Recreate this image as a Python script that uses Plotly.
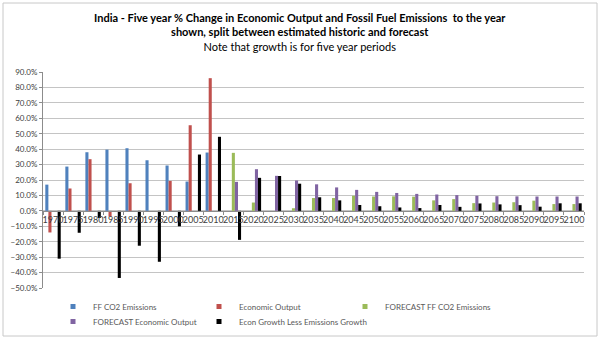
import plotly.graph_objects as go

# Five-year periods ending in the year shown
years = [str(y) for y in range(1970, 2101, 5)]

# Historic series (1970-2010), percent change over the five years
ff_co2 = [17.0, 28.7, 38.0, 39.7, 40.6, 32.8, 29.4, 19.0, 37.8]
econ_output = [-14.0, 14.5, 33.5, -3.7, 17.9, 0.0, 19.4, 55.5, 86.0]

# Forecast series (2015-2100)
fc_ff_co2 = [37.6, 5.4, 0.0, 1.7, 8.3, 8.3, 9.8, 9.3, 9.4, 9.2, 6.8, 7.6,
             5.0, 5.4, 5.6, 6.6, 4.4, 4.4]
fc_econ_output = [18.8, 27.0, 22.7, 19.7, 17.2, 15.2, 13.6, 12.3, 11.6, 11.0,
                  10.6, 10.2, 9.8, 9.5, 9.4, 9.3, 9.3, 9.3]

# Economic growth minus emissions growth, whole span
growth_gap = [-31.0, -14.2, -4.6, -43.5, -22.6, -33.0, -10.0, 36.5, 48.0,
              -18.8, 21.4, 22.6, 17.6, 8.8, 6.8, 3.8, 3.0, 2.2, 1.8, 3.8,
              2.6, 4.8, 4.2, 3.7, 2.7, 4.9, 4.9]

n_hist = len(ff_co2)
hist_years = years[:n_hist]
fc_years = years[n_hist:]

series = [
    ("FF CO2 Emissions", hist_years, ff_co2, "#4F81BD"),
    ("Economic Output", hist_years, econ_output, "#C0504D"),
    ("FORECAST FF CO2 Emissions", fc_years, fc_ff_co2, "#9BBB59"),
    ("FORECAST Economic Output", fc_years, fc_econ_output, "#8064A2"),
    ("Econ Growth Less Emissions Growth", years, growth_gap, "#000000"),
]

FONT = "Lato, 'Open Sans', sans-serif"

W, H = 600, 342
L, R, T, B = 43, 16, 72, 54
pw, ph = W - L - R, H - T - B
ymin, ymax = -50, 90


def px_x(x):
    return (x - L) / pw


def px_y(y):
    return (H - B - y) / ph


# Legend grid: three columns, two rows (pixel positions of each key)
legend_cols = [53, 199, 345]
legend_rows = [292, 307]
legend_ids = ["legend", "legend2", "legend3", "legend4", "legend5"]

fig = go.Figure()
for name, xs, ys, color in series:
    fig.add_trace(go.Bar(
        x=xs, y=ys, name=name, marker_color=color, marker_line_width=0,
        showlegend=False, legendgroup=name,
    ))
# Compact square keys for the legend
for (name, xs, ys, color), lid in zip(series, legend_ids):
    fig.add_trace(go.Scatter(
        x=[None], y=[None], mode="markers", name=name, legendgroup=name,
        legend=lid, marker=dict(symbol="square", size=5, color=color),
    ))

legends = {}
for i, lid in enumerate(legend_ids):
    legends[lid] = dict(
        orientation="h", x=px_x(legend_cols[i % 3]), y=px_y(legend_rows[i // 3]),
        xanchor="left", yanchor="top", itemwidth=30,
        font=dict(size=8, color="#595959"), bgcolor="rgba(0,0,0,0)",
    )

fig.update_layout(
    width=W, height=H,
    margin=dict(l=L, r=R, t=T, b=B, autoexpand=False),
    paper_bgcolor="white", plot_bgcolor="white",
    barmode="group", bargap=0.23, bargroupgap=0,
    font=dict(family=FONT, size=9, color="#404040"),
    showlegend=True,
    **legends,
    xaxis=dict(
        type="category", categoryorder="array", categoryarray=years,
        anchor="free", position=(0 - ymin) / (ymax - ymin),
        showline=True, linecolor="#8c8c8c", linewidth=1,
        ticks="outside", tickson="boundaries", ticklen=3, tickcolor="#8c8c8c",
        showgrid=False, tickfont=dict(size=9, color="#404040"),
        tickangle=0,
    ),
    yaxis=dict(
        range=[ymin, ymax], dtick=10, tickformat=".1f", ticksuffix="%",
        showgrid=True, gridcolor="#c4c4c4", gridwidth=1,
        showline=True, linecolor="#8c8c8c", linewidth=1,
        ticks="outside", ticklen=3, tickcolor="#8c8c8c",
        zeroline=False, tickfont=dict(size=8, color="#404040"),
    ),
    annotations=[
        dict(
            text=("<b>India - Five year % Change in Economic Output and Fossil "
                  "Fuel Emissions  to the year</b><br><b>shown, split between "
                  "estimated historic and forecast</b><br>Note that growth is "
                  "for five year periods"),
            xref="paper", yref="paper", x=px_x(300), y=px_y(9),
            xanchor="center", yanchor="top", showarrow=False,
            font=dict(size=11, color="#000000", family=FONT),
            align="center",
        )
    ],
    shapes=[
        dict(type="rect", xref="paper", yref="paper",
             x0=px_x(3), x1=px_x(597), y0=px_y(336), y1=px_y(3),
             line=dict(color="#c8c8c8", width=1), fillcolor="rgba(0,0,0,0)",
             layer="below"),
    ],
)

fig.write_html("out.html")
